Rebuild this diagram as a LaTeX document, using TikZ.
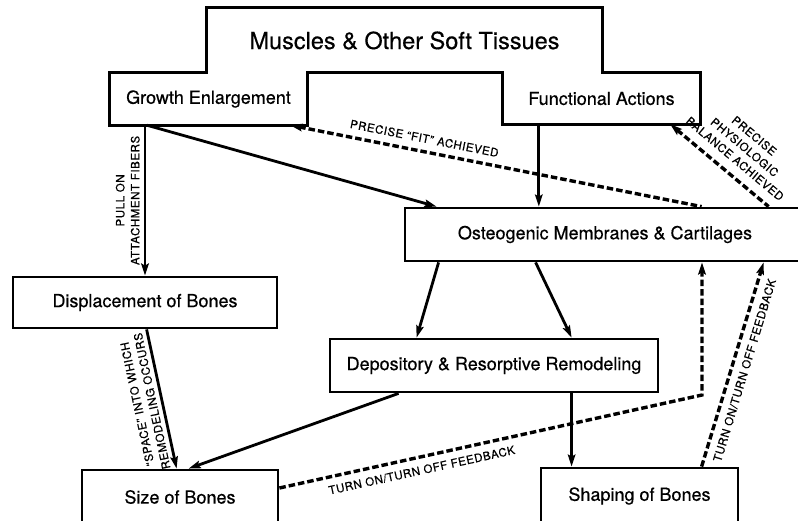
\documentclass[tikz,border=0pt]{standalone}
\usepackage{fontspec}
\setmainfont{TeX Gyre Heros}[FakeBold=0.5]
\newfontfamily\capsfont{TeX Gyre Heros}[LetterSpace=5,FakeBold=0.5]
\usetikzlibrary{calc,arrows.meta}

\begin{document}
\begin{tikzpicture}[x=1pt,y=-1pt,>={Stealth[length=12pt,width=7.5pt,inset=2pt]},
  box/.style={draw,line width=2.8pt,inner sep=0pt,font=\fontsize{18}{20}\selectfont},
  region/.style={inner sep=0pt,font=\fontsize{18}{20}\selectfont},
  flow/.style={->,line width=2.8pt},
  feedback/.style={->,line width=3.4pt,dash pattern=on 6.5pt off 3pt},
  note/.style={font=\capsfont\fontsize{11.5}{15}\selectfont,align=center,inner sep=4pt}]
  \useasboundingbox (0,0) rectangle (798,521);
  % Soft tissues (one outline round three regions)
  \node[region,minimum width=395pt,minimum height=65pt,font=\fontsize{23.5}{26}\selectfont]
    (muscles) at (404.5,40.5) {Muscles \& Other Soft Tissues};
  \node[region,minimum width=197pt,minimum height=52pt] (growth) at (208.5,99) {Growth Enlargement};
  \node[region,minimum width=197pt,minimum height=51pt] (func) at (601.5,98.5) {Functional Actions};
  \draw[line width=2.8pt,line join=miter] (muscles.north west) -- (muscles.north east)
    -- (muscles.north east |- func.north) -- (func.north east) -- (func.south east)
    -- (func.south west) -- (func.north west) -- (growth.north east) -- (growth.south east)
    -- (growth.south west) -- (growth.north west) -- (muscles.north west |- growth.north) -- cycle;
  % Bone boxes
  \node[box,minimum width=400pt,minimum height=53pt] (osteo) at (605,234.5) {Osteogenic Membranes \& Cartilages};
  \node[box,minimum width=264pt,minimum height=51pt] (disp) at (145,302.5) {Displacement of Bones};
  \node[box,minimum width=328pt,minimum height=53pt] (depo) at (494,365.5) {Depository \& Resorptive Remodeling};
  \node[box,minimum width=196pt,minimum height=54pt] (size) at (180,497) {Size of Bones};
  \node[box,minimum width=197pt,minimum height=56pt] (shaping) at (639.5,496) {Shaping of Bones};
  % Solid arrows
  \draw[flow] (growth.south -| disp.north) -- node[note,midway,rotate=90,anchor=south]
    {PULL ON\\ATTACHMENT FIBERS} (disp.north);
  \draw[flow] ([xshift=37pt]growth.south west) -- ([xshift=33pt]osteo.north west);
  \draw[flow] ([xshift=36pt]func.south west) -- ([xshift=36pt]func.south west |- osteo.north);
  \draw[flow] ([xshift=35pt]osteo.south west) -- ([xshift=88pt]depo.north west);
  \draw[flow] ([xshift=132pt]osteo.south west) -- ([xshift=243pt]depo.north west);
  \draw[flow] ([xshift=135pt]disp.south west) -- node[note,midway,rotate=102,anchor=south]
    {“SPACE” INTO WHICH\\REMODELING OCCURS} ([xshift=96pt]size.north west);
  \draw[flow] ([xshift=70pt]depo.south west) -- ([xshift=108pt]size.north west);
  \draw[flow] ([xshift=243pt]depo.south west) -- ([xshift=243pt]depo.south west |- shaping.north);
  % Dashed feedback
  \draw[feedback,<-] ([xshift=-17pt]growth.south east) -- node[note,pos=0.32,sloped,above=3pt]
    {PRECISE “FIT” ACHIEVED} ([xshift=298pt]osteo.north west);
  \draw[feedback,<-] ([xshift=-30pt]func.south east) -- node[note,pos=0.56,sloped,above=5pt]
    {PRECISE\\PHYSIOLOGIC\\BALANCE ACHIEVED} ([xshift=365pt]osteo.north west);
  \coordinate (turn) at (702,395);
  \draw[feedback,line join=miter] ([yshift=9pt]size.east) -- node[note,pos=0.33,sloped,below=3pt]
    {TURN ON/TURN OFF FEEDBACK} (turn) -- (turn |- osteo.south);
  \draw[feedback] ([xshift=162pt]shaping.north west) -- node[note,pos=0.49,sloped,below=3pt]
    {TURN ON/TURN OFF FEEDBACK} ([xshift=360pt]osteo.south west);
\end{tikzpicture}
\end{document}
